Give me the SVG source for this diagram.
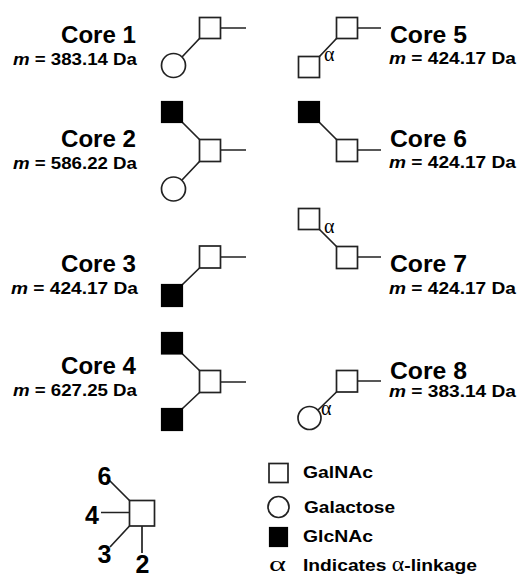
<svg xmlns="http://www.w3.org/2000/svg" width="521" height="578" viewBox="0 0 521 578">
<style>
.w{fill:#fff;stroke:#222;stroke-width:1.7}
.b{fill:#000;stroke:#000;stroke-width:1.2}
.c{fill:#fff;stroke:#222;stroke-width:1.7}
.ln{stroke:#222;stroke-width:1.7;fill:none}
.core{font-family:"Liberation Sans",Arial,sans-serif;font-weight:bold;font-size:23px;fill:#000}
.m{font-family:"Liberation Sans",Arial,sans-serif;font-weight:bold;font-size:16px;fill:#000}
.lg{font-family:"Liberation Sans",Arial,sans-serif;font-weight:bold;font-size:17px;fill:#000}
.num{font-family:"Liberation Sans",Arial,sans-serif;font-weight:bold;font-size:25px;fill:#000}
.al{font-family:"Liberation Serif","Times New Roman",serif;font-size:20px;fill:#000}
</style>
<rect width="521" height="578" fill="#fff"/>
<g id="connectors">
<path class="ln" d="M220.5 28H246M199.5 38.5L182 57"/>
<path class="ln" d="M182.5 122.5L199.5 139.5M220.5 150H246M199.5 161.5L182 180"/>
<path class="ln" d="M220.5 257H246M199.5 268L182.5 284.5"/>
<path class="ln" d="M182.5 354L199.5 370.5M220.5 382H246M199.5 392.5L182.5 408.5"/>
<path class="ln" d="M357.5 28H381M336.5 38.5L319.5 56.5"/>
<path class="ln" d="M319.5 122.5L336.5 139.5M357.5 150H381"/>
<path class="ln" d="M319.5 229.5L336.5 246.5M357.5 257H381"/>
<path class="ln" d="M357.5 381H381M336.5 392L318 410"/>
<path class="ln" d="M129.5 500.5L109 480M129.5 512.5H101M129.5 526L110 547M142 526V553"/>
</g>
<g id="core1">
<rect class="w" x="199.5" y="17.5" width="21" height="21"/>
<circle class="c" cx="173.5" cy="65.5" r="12"/>
<text class="core" x="136" y="43" text-anchor="end" textLength="75" lengthAdjust="spacingAndGlyphs">Core 1</text>
<text class="m" x="137" y="65" text-anchor="end" textLength="124" lengthAdjust="spacingAndGlyphs"><tspan font-style="italic">m</tspan> = 383.14 Da</text>
</g>
<g id="core2">
<rect class="b" x="161.5" y="101.5" width="21" height="21"/>
<rect class="w" x="199.5" y="139.5" width="21" height="22"/>
<circle class="c" cx="173.5" cy="189" r="12"/>
<text class="core" x="136" y="147" text-anchor="end" textLength="75" lengthAdjust="spacingAndGlyphs">Core 2</text>
<text class="m" x="137" y="169" text-anchor="end" textLength="124" lengthAdjust="spacingAndGlyphs"><tspan font-style="italic">m</tspan> = 586.22 Da</text>
</g>
<g id="core3">
<rect class="w" x="199.5" y="246" width="21" height="22"/>
<rect class="b" x="161.5" y="284.5" width="21" height="22"/>
<text class="core" x="136" y="272" text-anchor="end" textLength="75" lengthAdjust="spacingAndGlyphs">Core 3</text>
<text class="m" x="138" y="294" text-anchor="end" textLength="127" lengthAdjust="spacingAndGlyphs"><tspan font-style="italic">m</tspan> = 424.17 Da</text>
</g>
<g id="core4">
<rect class="b" x="161.5" y="332.5" width="21" height="21.5"/>
<rect class="w" x="199.5" y="370.5" width="21" height="22"/>
<rect class="b" x="161.5" y="408.5" width="21" height="22"/>
<text class="core" x="136" y="374" text-anchor="end" textLength="75" lengthAdjust="spacingAndGlyphs">Core 4</text>
<text class="m" x="137" y="396" text-anchor="end" textLength="124" lengthAdjust="spacingAndGlyphs"><tspan font-style="italic">m</tspan> = 627.25 Da</text>
</g>
<g id="core5">
<rect class="w" x="336.5" y="17.5" width="21" height="21"/>
<rect class="w" x="298.5" y="56.5" width="21" height="21"/>
<text class="al" x="324" y="61">α</text>
<text class="core" x="390" y="43" textLength="77" lengthAdjust="spacingAndGlyphs">Core 5</text>
<text class="m" x="389" y="64" textLength="127" lengthAdjust="spacingAndGlyphs"><tspan font-style="italic">m</tspan> = 424.17 Da</text>
</g>
<g id="core6">
<rect class="b" x="298.5" y="101.5" width="21" height="21"/>
<rect class="w" x="336.5" y="139.5" width="21" height="22"/>
<text class="core" x="390" y="147" textLength="77" lengthAdjust="spacingAndGlyphs">Core 6</text>
<text class="m" x="389" y="168" textLength="127" lengthAdjust="spacingAndGlyphs"><tspan font-style="italic">m</tspan> = 424.17 Da</text>
</g>
<g id="core7">
<rect class="w" x="298.5" y="208.5" width="21" height="21"/>
<rect class="w" x="336.5" y="246.5" width="21" height="22"/>
<text class="al" x="324" y="233">α</text>
<text class="core" x="390" y="272" textLength="77" lengthAdjust="spacingAndGlyphs">Core 7</text>
<text class="m" x="389" y="294" textLength="127" lengthAdjust="spacingAndGlyphs"><tspan font-style="italic">m</tspan> = 424.17 Da</text>
</g>
<g id="core8">
<rect class="w" x="336.5" y="370.5" width="21" height="21.5"/>
<circle class="c" cx="309.5" cy="418" r="11.5"/>
<text class="al" x="321" y="415">α</text>
<text class="core" x="390" y="379" textLength="77" lengthAdjust="spacingAndGlyphs">Core 8</text>
<text class="m" x="389" y="397" textLength="127" lengthAdjust="spacingAndGlyphs"><tspan font-style="italic">m</tspan> = 383.14 Da</text>
</g>
<g id="key">
<rect class="w" x="129.5" y="500.5" width="25" height="25.5"/>
<text class="num" x="104.5" y="485" text-anchor="middle">6</text>
<text class="num" x="92" y="524" text-anchor="middle">4</text>
<text class="num" x="104.5" y="563" text-anchor="middle">3</text>
<text class="num" x="142.5" y="573" text-anchor="middle">2</text>
</g>
<g id="legend">
<rect class="w" x="269" y="463.5" width="19" height="19"/>
<text class="lg" x="303" y="478" textLength="70" lengthAdjust="spacingAndGlyphs">GalNAc</text>
<circle class="c" cx="278.5" cy="507" r="10.5"/>
<text class="lg" x="304" y="513" textLength="91" lengthAdjust="spacingAndGlyphs">Galactose</text>
<rect class="b" x="269.5" y="527.5" width="18" height="19"/>
<text class="lg" x="303" y="542" textLength="70" lengthAdjust="spacingAndGlyphs">GlcNAc</text>
<text class="al" x="269" y="571" font-size="24" textLength="17" lengthAdjust="spacingAndGlyphs">α</text>
<text class="lg" x="303" y="571" textLength="174" lengthAdjust="spacingAndGlyphs">Indicates <tspan font-family="'Liberation Serif',serif" font-weight="normal" font-size="21">α</tspan>-linkage</text>
</g>
</svg>
